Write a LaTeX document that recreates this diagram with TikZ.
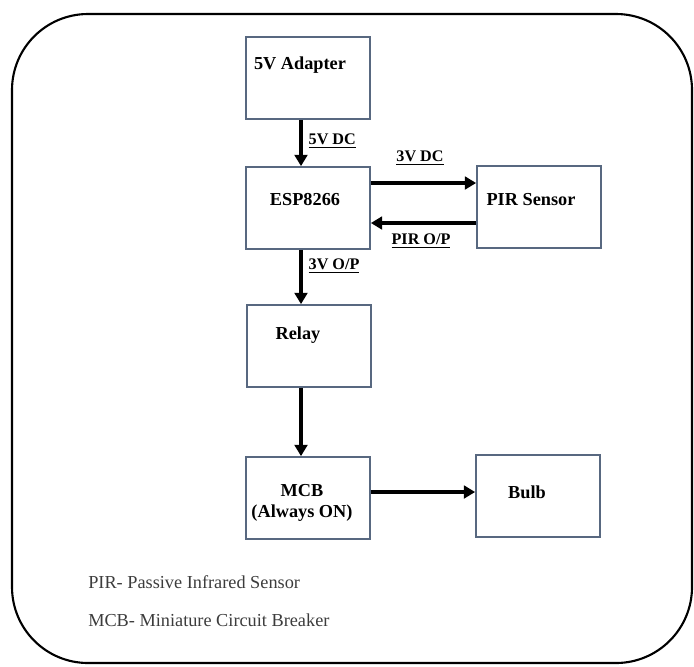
\documentclass[tikz,border=0pt]{standalone}
\usepackage{fontspec}
\setmainfont{Liberation Serif}
\usetikzlibrary{arrows.meta}
\definecolor{blkline}{RGB}{88,104,128}
\definecolor{legtext}{RGB}{60,60,60}
\tikzset{
	blk/.style={draw=blkline, line width=1.2pt, minimum width=3.1cm, minimum height=2.05cm, inner sep=0pt},
	txt/.style={font=\fontsize{13}{15.5}\selectfont\bfseries, align=center, inner sep=0pt},
	arr/.style={line width=2.4pt, -{Triangle[width=9pt,length=8pt]}},
	lbl/.style={font=\fontsize{11.5}{13}\selectfont\bfseries, inner sep=1pt},
	leg/.style={font=\fontsize{13}{15}\selectfont, text=legtext, anchor=west, inner sep=0pt}
}

\begin{document}
\begin{tikzpicture}[x=0.025cm,y=-0.025cm]
	\useasboundingbox (0,0) rectangle (694,666);
	\draw[line width=1.5pt, rounded corners=1.9cm] (12,14) rectangle (692,663);

	\node[blk] (adapter) at (308,78) {};
	\node[blk] (esp) at (308,208) {};
	\node[blk] (pir) at (539,207) {};
	\node[blk] (relay) at (309,346) {};
	\node[blk] (mcb) at (308,498) {};
	\node[blk] (bulb) at (538,496) {};

	\node[txt] (adaptertxt) at (300,65) {5V Adapter};
	\node[txt] (esptxt) at (305,200) {ESP8266};
	\node[txt] (pirtxt) at (531,200) {PIR Sensor};
	\node[txt] (relaytxt) at (298,335) {Relay};
	\node[txt] (mcbtxt) at (302,503) {MCB\\(Always ON)};
	\node[txt] (bulbtxt) at (527,492) {Bulb};

	\draw[arr] (adapter.south -| 301,0) -- (esp.north -| 301,0);
	\draw[arr] (esp.east |- 0,183) -- (pir.west |- 0,183);
	\draw[arr] (pir.west |- 0,223) -- (esp.east |- 0,223);
	\draw[arr] (esp.south -| 301,0) -- (relay.north -| 301,0);
	\draw[arr] (relay.south -| 301,0) -- (mcb.north -| 301,0);
	\draw[arr] (mcb.east |- 0,492) -- (bulb.west |- 0,492);

	\node[lbl, anchor=west] (lbl5v) at (307,141) {\underline{5V DC}};
	\node[lbl] (lbl3v) at (420,158) {\underline{3V DC}};
	\node[lbl] (lblpir) at (421,241) {\underline{PIR O/P}};
	\node[lbl, anchor=west] (lblout) at (307,266) {\underline{3V O/P}};

	\node[leg] (legpir) at (88,582) {PIR- Passive Infrared Sensor};
	\node[leg] (legmcb) at (88,620) {MCB- Miniature Circuit Breaker};
\end{tikzpicture}
\end{document}
